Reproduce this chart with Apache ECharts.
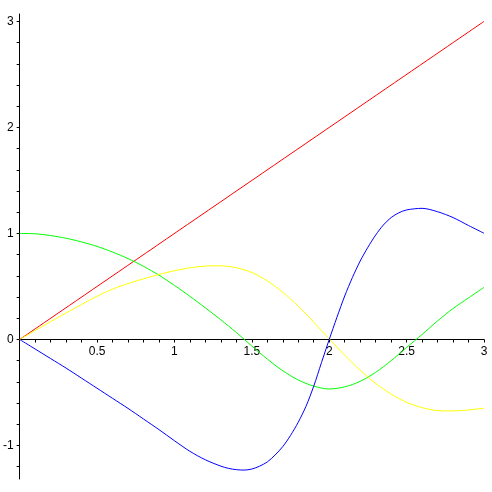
<!DOCTYPE html>
<html>
<head>
<meta charset="utf-8">
<script src="https://cdn.jsdelivr.net/npm/echarts@6/dist/echarts.min.js"></script>
<style>
  html, body { margin: 0; padding: 0; background: #fff; }
</style>
</head>
<body>
<div id="plot" style="width:492px;height:492px"></div>
<script>
// x grid shared by the green and yellow curves
var xs = [0, 0.1, 0.2, 0.3, 0.4, 0.5, 0.6, 0.7, 0.8, 0.9, 1.0,
  1.1, 1.2, 1.3, 1.4, 1.5, 1.6, 1.7, 1.8, 1.9, 2.0,
  2.1, 2.2, 2.3, 2.4, 2.5, 2.6, 2.7, 2.8, 2.9, 3.0]
var greenY = [1.0, 0.997, 0.98, 0.955, 0.92, 0.878, 0.825, 0.763, 0.69, 0.607, 0.51,
  0.407, 0.298, 0.185, 0.066, -0.062, -0.185, -0.295, -0.382, -0.44, -0.467,
  -0.447, -0.395, -0.31, -0.2, -0.075, 0.047, 0.175, 0.292, 0.392, 0.492]
var yellowY = [0, 0.085, 0.168, 0.25, 0.33, 0.408, 0.475, 0.527, 0.572, 0.613, 0.648,
  0.676, 0.692, 0.695, 0.677, 0.632, 0.553, 0.445, 0.315, 0.163, 0.005,
  -0.148, -0.29, -0.415, -0.515, -0.593, -0.643, -0.671, -0.674, -0.665, -0.648]
// blue is sampled finer where it bends or is steep
var blueX = [0, 0.1, 0.2, 0.3, 0.4, 0.5, 0.6, 0.7, 0.8, 0.9, 1.0,
  1.1, 1.2, 1.3, 1.35, 1.4, 1.45, 1.5, 1.55, 1.6, 1.65, 1.7, 1.75, 1.8, 1.85, 1.9, 1.95, 2.0,
  2.05, 2.1, 2.15, 2.2, 2.25, 2.3, 2.35, 2.4, 2.45, 2.5, 2.6, 2.7, 2.8, 2.9, 3.0]
var blueY = [0, -0.09, -0.18, -0.27, -0.365, -0.46, -0.555, -0.65, -0.75, -0.85, -0.955,
  -1.055, -1.135, -1.195, -1.216, -1.228, -1.232, -1.222, -1.195, -1.155, -1.09, -1.01, -0.905, -0.78,
  -0.63, -0.44, -0.218, 0.0,
  0.21, 0.41, 0.585, 0.74, 0.87, 0.985, 1.08, 1.15, 1.195, 1.222, 1.237, 1.205, 1.15, 1.075, 1.002]
var redX = [0, 3]
var redY = [0, 3]

// ticks and labels
var xLabels = [0.5, 1, 1.5, 2, 2.5, 3]
var xTicks = [0.1, 0.2, 0.3, 0.4, 0.5, 0.6, 0.7, 0.8, 0.9, 1, 1.1, 1.2, 1.3, 1.4, 1.5,
  1.6, 1.7, 1.8, 1.9, 2, 2.1, 2.2, 2.3, 2.4, 2.5, 2.6, 2.7, 2.8, 2.9, 3]
var yLabels = [-1, 0, 1, 2, 3]
var yTicks = [-1.2, -1, -0.8, -0.6, -0.4, -0.2, 0, 0.2, 0.4, 0.6, 0.8, 1,
  1.2, 1.4, 1.6, 1.8, 2, 2.2, 2.4, 2.6, 2.8, 3]

function pairs (a, b) {
  return a.map(function (v, k) { return [v, b[k]] })
}

var chart = echarts.init(document.getElementById('plot'))
var lineBase = { type: 'line', showSymbol: false, smooth: 0.3, animation: false, silent: true }
var textStyle = { color: '#000', fontFamily: 'Liberation Sans', fontSize: 12 }

chart.setOption({
  backgroundColor: '#fff',
  grid: { left: 19, right: 8, top: 14, bottom: 13, containLabel: false },
  xAxis: {
    type: 'value',
    min: 0,
    max: 3,
    // x axis sits on y = 0 (grid bottom is 139.5px below it)
    offset: -139.5,
    axisLine: { show: true, onZero: false, lineStyle: { color: '#000', width: 1 } },
    axisTick: { show: true, length: 3, customValues: xTicks, lineStyle: { color: '#000' } },
    axisLabel: Object.assign({
      margin: 6,
      customValues: xLabels,
      formatter: function (v) { return String(v) }
    }, textStyle),
    splitLine: { show: false }
  },
  yAxis: {
    type: 'value',
    min: -1.316,
    max: 3.07,
    axisLine: { show: true, onZero: false, lineStyle: { color: '#000', width: 1 } },
    axisTick: { show: true, length: 3, customValues: yTicks, lineStyle: { color: '#000' } },
    axisLabel: Object.assign({
      margin: 6,
      customValues: yLabels,
      formatter: function (v) { return String(v) }
    }, textStyle),
    splitLine: { show: false }
  },
  series: [
    Object.assign({ data: pairs(redX, redY), lineStyle: { color: '#ff0000', width: 1 } }, lineBase),
    Object.assign({ data: pairs(xs, greenY), lineStyle: { color: '#00ff00', width: 1 } }, lineBase),
    Object.assign({ data: pairs(xs, yellowY), lineStyle: { color: '#ffff00', width: 1 } }, lineBase),
    Object.assign({ data: pairs(blueX, blueY), lineStyle: { color: '#0000ff', width: 1 } }, lineBase)
  ]
})
</script>
</body>
</html>
